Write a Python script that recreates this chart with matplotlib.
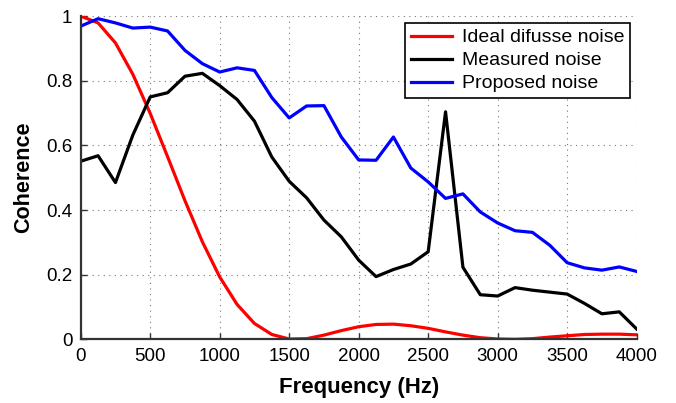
import matplotlib
matplotlib.use("Agg")
import matplotlib.pyplot as plt
from matplotlib.ticker import FormatStrFormatter

plt.rcParams['font.family'] = ['Liberation Sans', 'DejaVu Sans']

# --- data (frequency steps of 125 Hz) ---
freq = [i * 125 for i in range(33)]

ideal = [1.000, 0.979, 0.917, 0.820, 0.699, 0.565, 0.429, 0.302, 0.193, 0.108,
         0.049, 0.015, 0.001, 0.002, 0.013, 0.027, 0.039, 0.046, 0.047, 0.042,
         0.034, 0.023, 0.013, 0.005, 0.001, 0.000, 0.002, 0.007, 0.011, 0.015,
         0.016, 0.016, 0.014]

measured = [0.551, 0.568, 0.485, 0.632, 0.750, 0.763, 0.814, 0.823, 0.785, 0.742,
            0.675, 0.564, 0.489, 0.438, 0.369, 0.317, 0.245, 0.194, 0.216, 0.233,
            0.271, 0.704, 0.223, 0.138, 0.134, 0.160, 0.152, 0.146, 0.140, 0.111,
            0.079, 0.085, 0.032]

proposed = [0.969, 0.992, 0.979, 0.963, 0.966, 0.954, 0.894, 0.853, 0.827, 0.840,
            0.832, 0.748, 0.685, 0.722, 0.723, 0.626, 0.555, 0.554, 0.626, 0.530,
            0.487, 0.436, 0.450, 0.394, 0.360, 0.336, 0.331, 0.291, 0.237, 0.221,
            0.214, 0.224, 0.210]

labels = ["Ideal difusse noise", "Measured noise", "Proposed noise"]

fig = plt.figure(figsize=(6.76, 4.03), dpi=100)
ax = fig.add_axes([0.1194, 0.158, 0.8224, 0.802])

ax.plot(freq, ideal, color="#ff0000", lw=2.3, label=labels[0])
ax.plot(freq, measured, color="black", lw=2.3, label=labels[1])
ax.plot(freq, proposed, color="#0000ff", lw=2.3, label=labels[2])

ax.set_xlim(0, 4000)
ax.set_ylim(0, 1)
ax.set_xticks(range(0, 4001, 500))
ax.set_yticks([0, 0.2, 0.4, 0.6, 0.8, 1])
ax.yaxis.set_major_formatter(FormatStrFormatter("%g"))
ax.tick_params(direction="in", length=4, width=1, labelsize=13.5, color="#333333", pad=6)
ax.grid(True, linestyle=(0, (1, 4)), color="#777777", lw=0.8)

for s in ["top", "right"]:
    ax.spines[s].set_visible(False)
for s in ["left", "bottom"]:
    ax.spines[s].set_linewidth(1.6)
    ax.spines[s].set_color("#333333")

ax.set_xlabel("Frequency (Hz)", fontsize=16, fontweight="bold", labelpad=9)
ax.set_ylabel("Coherence", fontsize=15.5, fontweight="bold", labelpad=9)

leg = ax.legend(loc="upper right", fontsize=14, frameon=True, fancybox=False,
                edgecolor="black", framealpha=1, borderaxespad=0.35,
                handlelength=2.1, handletextpad=0.5, labelspacing=0.28,
                borderpad=0.3)
leg.get_frame().set_linewidth(1.2)

fig.savefig("out.png", dpi=100)
